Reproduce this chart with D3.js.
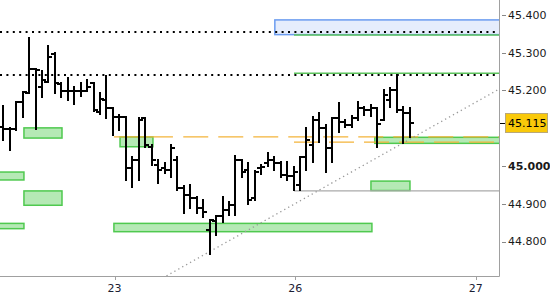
<!DOCTYPE html>
<html>
<head>
<meta charset="utf-8">
<script src="https://cdnjs.cloudflare.com/ajax/libs/d3/7.8.5/d3.min.js"></script>
<style>
  body { margin: 0; background: #fff; }
  svg { display: block; font-family: 'DejaVu Sans', sans-serif; }
</style>
</head>
<body>
<script>
// size of the svg and of the plot area (price axis sits right of plotW)
var width = 550,
    height = 300,
    plotW = 499,
    plotH = 276;

// OHLC bars, one entry per bar, left to right
var opens = [45.104, 45.098, 45.098, 45.170, 45.194, 45.257, 45.209, 45.223, 45.297, 45.217,
  45.199, 45.199, 45.199, 45.199, 45.220, 45.143, 45.175, 45.154, 45.130, 45.130,
  44.995, 45.016, 45.127, 45.051, 45.003, 44.995, 44.990, 45.016, 44.942, 44.923,
  44.915, 44.889, 44.831, 44.855, 44.868, 44.884, 44.897, 45.016, 44.990, 44.915,
  44.995, 45.008, 45.016, 45.008, 44.976, 44.974, 44.950, 45.024, 45.056, 45.122,
  45.101, 45.048, 45.127, 45.117, 45.109, 45.127, 45.154, 45.149, 45.154, 45.122,
  45.175, 45.202, 45.149, 45.141];
var highs = [45.159, 45.101, 45.170, 45.196, 45.339, 45.257, 45.252, 45.318, 45.300, 45.220,
  45.233, 45.209, 45.220, 45.228, 45.220, 45.194, 45.239, 45.154, 45.135, 45.130,
  45.024, 45.127, 45.127, 45.056, 45.016, 45.008, 45.056, 45.024, 44.947, 44.950,
  44.918, 44.910, 44.857, 44.868, 44.918, 44.905, 45.027, 45.016, 45.008, 44.987,
  45.003, 45.035, 45.024, 45.011, 45.011, 44.998, 45.024, 45.101, 45.130, 45.141,
  45.109, 45.127, 45.167, 45.122, 45.133, 45.170, 45.157, 45.162, 45.154, 45.202,
  45.207, 45.241, 45.157, 45.154];
var lows = [45.069, 45.043, 45.096, 45.130, 45.194, 45.098, 45.183, 45.223, 45.194, 45.183,
  45.175, 45.164, 45.186, 45.199, 45.146, 45.138, 45.127, 45.082, 45.096, 44.963,
  44.944, 44.963, 45.051, 45.003, 44.955, 44.982, 44.971, 44.937, 44.876, 44.889,
  44.876, 44.865, 44.767, 44.817, 44.852, 44.870, 44.870, 44.971, 44.900, 44.910,
  44.979, 45.000, 44.990, 44.971, 44.963, 44.937, 44.937, 44.990, 45.011, 45.064,
  44.984, 45.011, 45.090, 45.104, 45.104, 45.122, 45.135, 45.133, 45.051, 45.122,
  45.157, 45.143, 45.061, 45.077];
var closes = [45.098, 45.098, 45.170, 45.196, 45.257, 45.255, 45.228, 45.289, 45.220, 45.199,
  45.199, 45.199, 45.199, 45.209, 45.149, 45.178, 45.154, 45.130, 45.130, 44.995,
  45.016, 45.122, 45.056, 45.016, 44.990, 44.990, 45.048, 44.942, 44.923, 44.915,
  44.889, 44.878, 44.857, 44.868, 44.884, 44.897, 45.016, 44.984, 44.910, 44.984,
  44.998, 45.016, 45.008, 44.976, 44.974, 44.984, 45.024, 45.069, 45.122, 45.101,
  45.048, 45.127, 45.117, 45.109, 45.127, 45.154, 45.149, 45.154, 45.112, 45.188,
  45.202, 45.149, 45.141, 45.115];

// day labels on the time axis, placed at (fractional) bar positions
var dayTicks = [17.25, 45.25, 73.25];
var dayLabels = ['23', '26', '27'];

// price axis labels (45.100 sits under the last-price box)
var priceTicks = [44.8, 44.9, 45.0, 45.2, 45.3, 45.4];
var lastPrice = 45.115;

// green zones: [from bar, to bar (null = right edge), bottom price, top price]
var greenZones = [
  [3.2, 9.1, 45.074, 45.101],
  [18.1, 23.2, 45.051, 45.077],
  [-1, 3.2, 44.963, 44.984],
  [3.2, 9.1, 44.896, 44.934],
  [-1, 3.2, 44.834, 44.848],
  [17.15, 57.15, 44.826, 44.848],
  [57.0, 63.05, 44.935, 44.960],
  [57.6, null, 45.060, 45.076]
];
// blue zone above the highs
var blueZone = [42.1, null, 45.348, 45.387];

// horizontal levels
var dottedLevels = [45.355, 45.240];
var greenLevels = [45.347, 45.246];
var orangeSolid = [17.15, 26.3, 45.077];
var orangeDashed = [[27.9, 45.077], [45.07, 45.063]];
var greyLevel = [45.07, 44.934];

// rising support line, two points [bar, price]
var trendPts = [[25.3, 44.709], [76.9, 45.204]];

var bars = opens.map(function(o, i) {
  return { i: i, o: o, h: highs[i], l: lows[i], c: closes[i] };
});

var svg = d3.select('body')
  .append('svg')
  .attr('width', width)
  .attr('height', height);

// bar index -> x, price -> y
var x = d3.scaleLinear().domain([0, 63]).range([3.3, 409.65]);
var y = d3.scaleLinear().domain([44.8, 45.4]).range([241.5, 15]);

function xe(v) { return v === null ? plotW : x(v); }

svg.append('clipPath').attr('id', 'plot')
  .append('rect').attr('width', plotW).attr('height', plotH);

var plot = svg.append('g').attr('clip-path', 'url(#plot)');

// blue zone
plot.append('rect')
  .attr('x', x(blueZone[0]))
  .attr('y', y(blueZone[3]))
  .attr('width', xe(blueZone[1]) - x(blueZone[0]) + 2)
  .attr('height', y(blueZone[2]) - y(blueZone[3]))
  .attr('fill', '#e6edfc')
  .attr('stroke', '#6b9cf0')
  .attr('stroke-width', 1.5);

// green zones
plot.selectAll('.zone')
  .data(greenZones)
  .enter().append('rect')
  .attr('class', 'zone')
  .attr('x', function(d) { return x(d[0]); })
  .attr('y', function(d) { return y(d[3]); })
  .attr('width', function(d) { return xe(d[1]) - x(d[0]) + (d[1] === null ? 2 : 0); })
  .attr('height', function(d) { return y(d[2]) - y(d[3]); })
  .attr('fill', '#b5e9b5')
  .attr('stroke', '#4fc94f')
  .attr('stroke-width', 1.5);

// green level lines
plot.selectAll('.glevel')
  .data(greenLevels)
  .enter().append('line')
  .attr('x1', x(45.07)).attr('x2', plotW)
  .attr('y1', function(d) { return y(d); })
  .attr('y2', function(d) { return y(d); })
  .attr('stroke', '#5cc45c')
  .attr('stroke-width', 1.5);

// grey support level
plot.append('line')
  .attr('x1', x(greyLevel[0])).attr('x2', plotW)
  .attr('y1', y(greyLevel[1])).attr('y2', y(greyLevel[1]))
  .attr('stroke', '#aaa')
  .attr('stroke-width', 1.2);

// orange levels
plot.append('line')
  .attr('x1', x(orangeSolid[0])).attr('x2', x(orangeSolid[1]))
  .attr('y1', y(orangeSolid[2])).attr('y2', y(orangeSolid[2]))
  .attr('stroke', '#f3b43a')
  .attr('stroke-width', 1.2);

plot.selectAll('.olevel')
  .data(orangeDashed)
  .enter().append('line')
  .attr('x1', function(d) { return x(d[0]); }).attr('x2', plotW)
  .attr('y1', function(d) { return y(d[1]); })
  .attr('y2', function(d) { return y(d[1]); })
  .attr('stroke', '#f3b43a')
  .attr('stroke-width', 1.2)
  .attr('stroke-dasharray', '25,10');

// dotted black resistance levels
plot.selectAll('.dlevel')
  .data(dottedLevels)
  .enter().append('line')
  .attr('x1', 0).attr('x2', plotW - 2)
  .attr('y1', function(d) { return Math.round(y(d)); })
  .attr('y2', function(d) { return Math.round(y(d)); })
  .attr('stroke', '#000')
  .attr('stroke-width', 2)
  .attr('stroke-dasharray', '2,4.4');

// dotted trend line
plot.append('line')
  .attr('x1', x(trendPts[0][0])).attr('y1', y(trendPts[0][1]))
  .attr('x2', x(trendPts[1][0])).attr('y2', y(trendPts[1][1]))
  .attr('stroke', '#999')
  .attr('stroke-width', 1.3)
  .attr('stroke-dasharray', '1.3,3.2');

// OHLC bars
var g = plot.selectAll('.bar')
  .data(bars)
  .enter().append('g')
  .attr('class', 'bar')
  .attr('stroke', '#000')
  .attr('stroke-width', 2)
  .attr('shape-rendering', 'crispEdges');

g.append('line')
  .attr('x1', function(d) { return Math.round(x(d.i)); })
  .attr('x2', function(d) { return Math.round(x(d.i)); })
  .attr('y1', function(d) { return y(d.h) - 1; })
  .attr('y2', function(d) { return y(d.l) + 1; });
g.append('line')
  .attr('x1', function(d) { return Math.round(x(d.i)) - 4; })
  .attr('x2', function(d) { return Math.round(x(d.i)); })
  .attr('y1', function(d) { return y(d.o); })
  .attr('y2', function(d) { return y(d.o); });
g.append('line')
  .attr('x1', function(d) { return Math.round(x(d.i)); })
  .attr('x2', function(d) { return Math.round(x(d.i)) + 4; })
  .attr('y1', function(d) { return y(d.c); })
  .attr('y2', function(d) { return y(d.c); });

// frame: bottom and right axis lines
svg.append('path')
  .attr('d', 'M0,' + (plotH + 0.5) + 'H' + (plotW + 0.5) + 'V0')
  .attr('fill', 'none')
  .attr('stroke', '#a0a0a0');

// time axis
var xAxis = svg.append('g');
xAxis.selectAll('line')
  .data(dayTicks)
  .enter().append('line')
  .attr('x1', function(d) { return Math.round(x(d)) + 0.5; })
  .attr('x2', function(d) { return Math.round(x(d)) + 0.5; })
  .attr('y1', plotH).attr('y2', plotH + 4)
  .attr('stroke', '#a0a0a0');
xAxis.selectAll('text')
  .data(dayTicks)
  .enter().append('text')
  .attr('x', function(d) { return x(d); })
  .attr('y', plotH + 16)
  .attr('text-anchor', 'middle')
  .attr('font-size', '11px')
  .attr('fill', '#1a2033')
  .text(function(d, i) { return dayLabels[i]; });

// price axis
var fmt = d3.format('.3f');
var yAxis = svg.append('g');
yAxis.selectAll('line')
  .data(priceTicks)
  .enter().append('line')
  .attr('x1', plotW + 3).attr('x2', plotW + 7)
  .attr('y1', function(d) { return Math.round(y(d)) + 0.5; })
  .attr('y2', function(d) { return Math.round(y(d)) + 0.5; })
  .attr('stroke', '#888');
yAxis.selectAll('text')
  .data(priceTicks)
  .enter().append('text')
  .attr('x', plotW + 9)
  .attr('y', function(d) { return y(d); })
  .attr('dy', '0.36em')
  .attr('font-size', '11px')
  .attr('font-weight', function(d) { return Math.abs(d - Math.round(d)) < 1e-9 ? 'bold' : 'normal'; })
  .attr('fill', '#1a1a1a')
  .text(function(d) { return fmt(d); });

// last price marker
var ly = y(lastPrice);
svg.append('line')
  .attr('x1', plotW + 1).attr('x2', plotW + 6)
  .attr('y1', Math.round(ly) + 0.5).attr('y2', Math.round(ly) + 0.5)
  .attr('stroke', '#000');
svg.append('rect')
  .attr('x', plotW + 6.5).attr('y', Math.round(ly) - 9.5)
  .attr('width', 42).attr('height', 19)
  .attr('fill', '#f9c90a')
  .attr('stroke', '#b9a878');
svg.append('text')
  .attr('x', plotW + 9).attr('y', ly)
  .attr('dy', '0.36em')
  .attr('font-size', '11px')
  .attr('fill', '#000')
  .text(fmt(lastPrice));
</script>
</body>
</html>
